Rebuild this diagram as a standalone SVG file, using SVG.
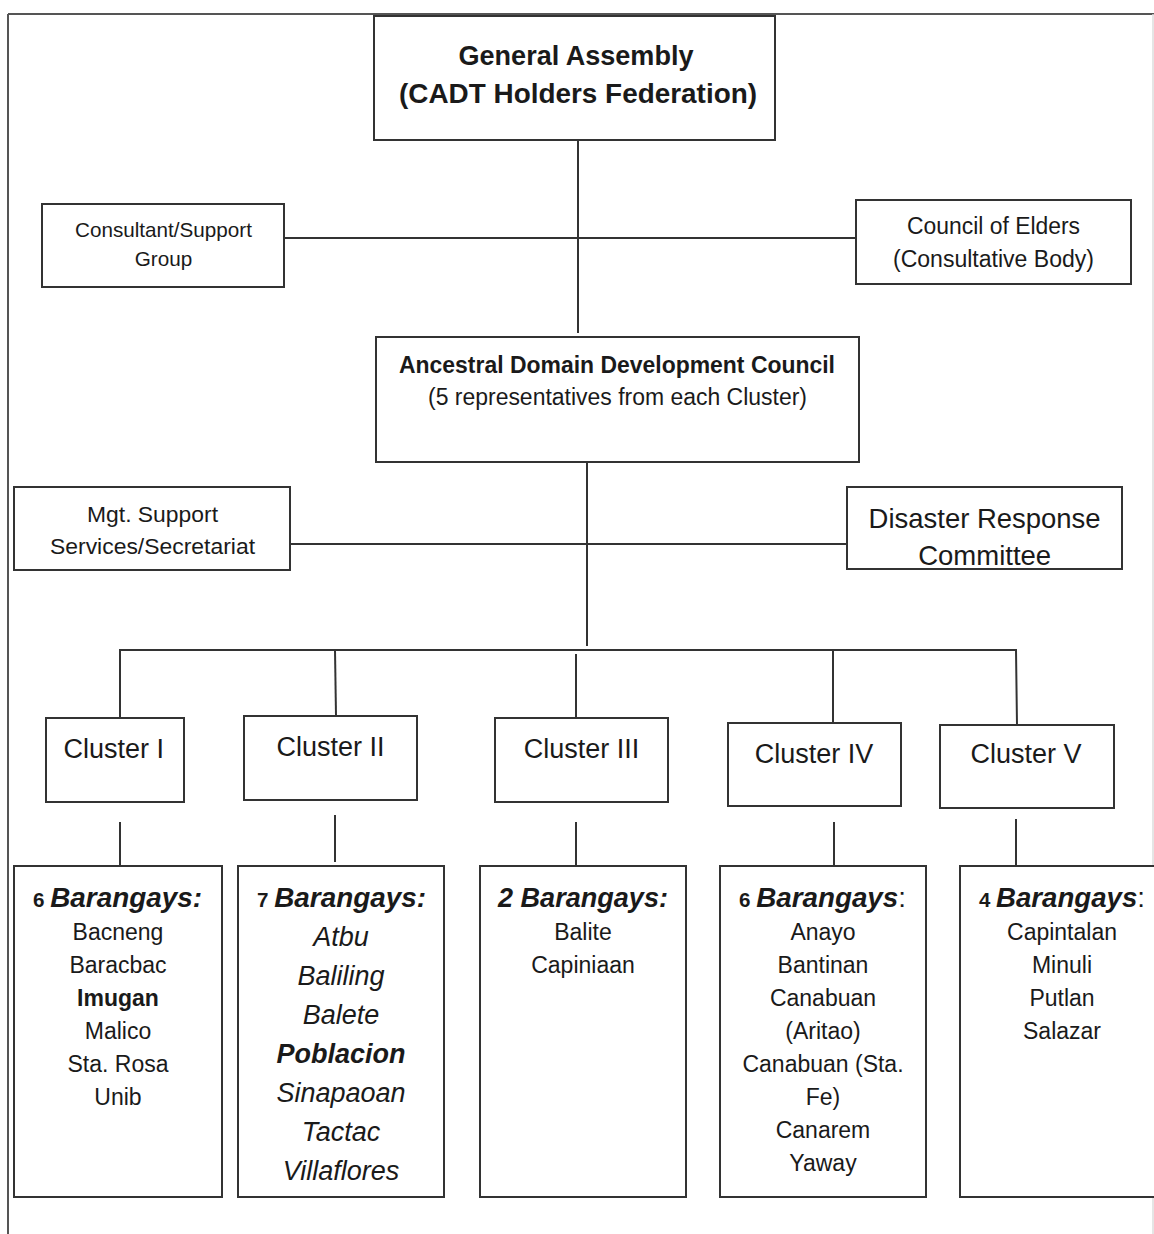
<svg xmlns="http://www.w3.org/2000/svg" width="1154" height="1234" viewBox="0 0 1154 1234">
<defs>
<style>
.box{fill:#fff;stroke:#333;stroke-width:2}
.ln{stroke:#333;stroke-width:2;fill:none}
text{font-family:"Liberation Sans",Arial,sans-serif;fill:#1a1a1a;text-anchor:middle}
.b{font-weight:bold}
.i{font-style:italic}
.t23{font-size:23px}
.t27{font-size:27px}
.hd{font-size:27px;font-weight:bold;font-style:italic}
.num{font-size:20px;font-style:normal;font-weight:bold}
.it{font-size:27px;font-style:italic}
</style>
</defs>
<rect width="1154" height="1234" fill="#fff"/>
<g id="frame">
<line x1="8" y1="14" x2="1154" y2="14" stroke="#555" stroke-width="2"/>
<line x1="8" y1="14" x2="8" y2="1234" stroke="#555" stroke-width="2"/>
<line x1="1153" y1="14" x2="1153" y2="1234" stroke="#ddd" stroke-width="1.5"/>
</g>
<g id="connectors">
<line class="ln" x1="578" y1="140" x2="578" y2="333"/>
<line class="ln" x1="271" y1="238" x2="856" y2="238"/>
<line class="ln" x1="587" y1="443" x2="587" y2="646"/>
<line class="ln" x1="284" y1="544" x2="847" y2="544"/>
<polyline class="ln" points="120,718 120,650 1016,650 1017,725"/>
<line class="ln" x1="335" y1="650" x2="336" y2="716"/>
<line class="ln" x1="576" y1="654" x2="576" y2="718"/>
<line class="ln" x1="833" y1="650" x2="833" y2="723"/>
<line class="ln" x1="120" y1="822" x2="120" y2="866"/>
<line class="ln" x1="335" y1="815" x2="335" y2="862"/>
<line class="ln" x1="576" y1="822" x2="576" y2="866"/>
<line class="ln" x1="834" y1="822" x2="834" y2="866"/>
<line class="ln" x1="1016" y1="819" x2="1016" y2="866"/>
</g>
<g id="general-assembly">
<rect class="box" x="374" y="16" width="401" height="124"/>
<text class="b" x="576" y="65" font-size="27" textLength="235" lengthAdjust="spacingAndGlyphs">General Assembly</text>
<text class="b" x="578" y="103" font-size="28" textLength="358" lengthAdjust="spacingAndGlyphs">(CADT Holders Federation)</text>
</g>
<g id="consultant">
<rect class="box" x="42" y="204" width="242" height="83"/>
<text x="163.5" y="237" font-size="20.7" textLength="177" lengthAdjust="spacingAndGlyphs">Consultant/Support</text>
<text x="163.5" y="266" font-size="20.7">Group</text>
</g>
<g id="council-of-elders">
<rect class="box" x="856" y="200" width="275" height="84"/>
<text x="993.5" y="234" font-size="23" textLength="173" lengthAdjust="spacingAndGlyphs">Council of Elders</text>
<text x="993.5" y="267" font-size="23" textLength="201" lengthAdjust="spacingAndGlyphs">(Consultative Body)</text>
</g>
<g id="addc">
<rect class="box" x="376" y="337" width="483" height="125"/>
<text class="b t23" x="617" y="373" textLength="436" lengthAdjust="spacingAndGlyphs">Ancestral Domain Development Council</text>
<text class="t23" x="617.5" y="405" textLength="379" lengthAdjust="spacingAndGlyphs">(5 representatives from each Cluster)</text>
</g>
<g id="mgt-support">
<rect class="box" x="14" y="487" width="276" height="83"/>
<text x="152.5" y="522" font-size="22.5" textLength="131" lengthAdjust="spacingAndGlyphs">Mgt. Support</text>
<text x="152.5" y="554" font-size="22.5" textLength="205" lengthAdjust="spacingAndGlyphs">Services/Secretariat</text>
</g>
<g id="disaster-response">
<rect class="box" x="847" y="487" width="275" height="82"/>
<text x="984.6" y="528" font-size="27.5" textLength="232" lengthAdjust="spacingAndGlyphs">Disaster Response</text>
<text x="984.7" y="565" font-size="27.5">Committee</text>
</g>
<g id="cluster-1">
<rect class="box" x="46" y="718" width="138" height="84"/>
<text class="t27" x="113.8" y="758">Cluster I</text>
</g>
<g id="cluster-2">
<rect class="box" x="244" y="716" width="173" height="84"/>
<text class="t27" x="330.5" y="756">Cluster II</text>
</g>
<g id="cluster-3">
<rect class="box" x="495" y="718" width="173" height="84"/>
<text class="t27" x="581.5" y="758">Cluster III</text>
</g>
<g id="cluster-4">
<rect class="box" x="728" y="723" width="173" height="83"/>
<text class="t27" x="814" y="763">Cluster IV</text>
</g>
<g id="cluster-5">
<rect class="box" x="940" y="725" width="174" height="83"/>
<text class="t27" x="1026" y="763">Cluster V</text>
</g>
<g id="barangays-1">
<rect class="box" x="14" y="866" width="208" height="331"/>
<text x="117.5" y="907" textLength="169" lengthAdjust="spacingAndGlyphs"><tspan class="num">6 </tspan><tspan class="hd">Barangays:</tspan></text>
<text class="t23" x="118" y="940">Bacneng</text>
<text class="t23" x="118" y="973">Baracbac</text>
<text class="t23 b" x="118" y="1006">Imugan</text>
<text class="t23" x="118" y="1039">Malico</text>
<text class="t23" x="118" y="1072">Sta. Rosa</text>
<text class="t23" x="118" y="1105">Unib</text>
</g>
<g id="barangays-2">
<rect class="box" x="238" y="866" width="206" height="331"/>
<text x="341.5" y="907" textLength="169" lengthAdjust="spacingAndGlyphs"><tspan class="num">7 </tspan><tspan class="hd">Barangays:</tspan></text>
<text class="it" x="341" y="946">Atbu</text>
<text class="it" x="341" y="985">Baliling</text>
<text class="it" x="341" y="1024">Balete</text>
<text class="it b" x="341" y="1063">Poblacion</text>
<text class="it" x="341" y="1102">Sinapaoan</text>
<text class="it" x="341" y="1141">Tactac</text>
<text class="it" x="341" y="1180">Villaflores</text>
</g>
<g id="barangays-3">
<rect class="box" x="480" y="866" width="206" height="331"/>
<text class="hd" x="583" y="907" textLength="170" lengthAdjust="spacingAndGlyphs">2 Barangays:</text>
<text class="t23" x="583" y="940">Balite</text>
<text class="t23" x="583" y="973">Capiniaan</text>
</g>
<g id="barangays-4">
<rect class="box" x="720" y="866" width="206" height="331"/>
<text x="822.5" y="907" textLength="167" lengthAdjust="spacingAndGlyphs"><tspan class="num">6 </tspan><tspan class="hd">Barangays</tspan><tspan font-size="27">:</tspan></text>
<text class="t23" x="823" y="940">Anayo</text>
<text class="t23" x="823" y="973">Bantinan</text>
<text class="t23" x="823" y="1006">Canabuan</text>
<text class="t23" x="823" y="1039">(Aritao)</text>
<text class="t23" x="823" y="1072">Canabuan (Sta.</text>
<text class="t23" x="823" y="1105">Fe)</text>
<text class="t23" x="823" y="1138">Canarem</text>
<text class="t23" x="823" y="1171">Yaway</text>
</g>
<g id="barangays-5">
<rect class="box" x="960" y="866" width="200" height="331"/>
<text x="1062" y="907" textLength="166" lengthAdjust="spacingAndGlyphs"><tspan class="num">4 </tspan><tspan class="hd">Barangays</tspan><tspan font-size="27">:</tspan></text>
<text class="t23" x="1062" y="940">Capintalan</text>
<text class="t23" x="1062" y="973">Minuli</text>
<text class="t23" x="1062" y="1006">Putlan</text>
<text class="t23" x="1062" y="1039">Salazar</text>
</g>
</svg>
